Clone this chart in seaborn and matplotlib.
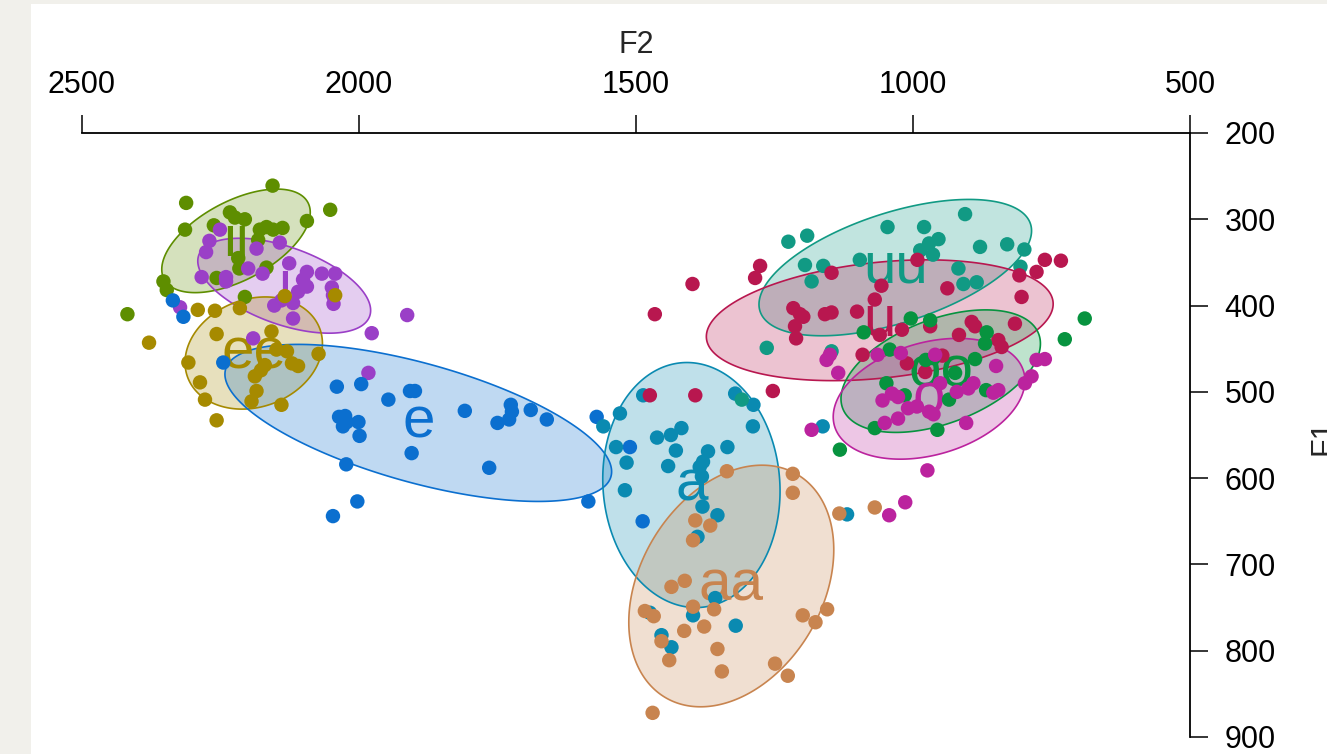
import numpy as np
import pandas as pd
import matplotlib
matplotlib.use("Agg")
import matplotlib.pyplot as plt
from matplotlib.patches import Polygon, Rectangle
import seaborn as sns

sns.set_style("white")
plt.rcParams["font.family"] = ["Liberation Sans", "DejaVu Sans"]

# vowel categories and their colours
vowels = ["ii", "i", "ee", "e", "a", "aa", "uu", "u", "oo", "o"]
colors = ["#5e8e00", "#9a3fc7", "#a68a00", "#0b6fcf", "#0a8ab1",
          "#c8844f", "#119a84", "#b8174f", "#07933f", "#bb239e"]

# token measurements (Hz)
ii_f2 = [2156, 2312, 2052, 2314, 2094, 2262, 2233, 2224, 2206, 2179, 2167,
         2155, 2138, 2182, 2218, 2216, 2167, 2257, 2353, 2347, 2206, 2418]
ii_f1 = [261, 281, 289, 312, 302, 307, 292, 298, 300, 312, 309,
         312, 310, 324, 345, 357, 356, 368, 372, 382, 390, 410]

i_f2 = [2251, 2270, 2276, 2185, 2143, 2126, 2200, 2174, 2284, 2240, 2240,
        2094, 2067, 2043, 2101, 2094, 2110, 2049, 2047, 2046, 2119, 2153,
        2140, 2119, 2323, 1977, 1913, 1983, 2191]
i_f1 = [312, 325, 338, 334, 327, 351, 357, 363, 367, 367, 372,
        361, 363, 363, 370, 378, 384, 379, 388, 398, 397, 400,
        394, 415, 402, 432, 411, 478, 438]

ee_f2 = [2379, 2291, 2260, 2215, 2257, 2158, 2308, 2287, 2278, 2257, 2194,
         2185, 2188, 2177, 2170, 2149, 2130, 2121, 2110, 2140, 2073, 2043, 2134]
ee_f1 = [443, 405, 406, 403, 433, 430, 466, 489, 509, 533, 511,
         499, 482, 475, 469, 451, 453, 467, 470, 515, 456, 388, 389]

e_f2 = [2336, 2317, 2245, 2040, 1996, 1947, 1908, 1899, 2036, 2025, 2029,
        2022, 2001, 1999, 1905, 2023, 2003, 2047, 1809, 1726, 1724, 1750,
        1729, 1690, 1661, 1765, 1571, 1511, 1586, 1488]
e_f1 = [394, 413, 466, 494, 491, 509, 499, 499, 529, 528, 540,
        535, 535, 551, 571, 584, 627, 644, 522, 515, 523, 536,
        532, 521, 532, 588, 529, 564, 627, 650]

a_f2 = [1487, 1321, 1288, 1289, 1529, 1559, 1462, 1437, 1418, 1536, 1517,
        1428, 1442, 1370, 1335, 1379, 1385, 1381, 1520, 1380, 1353, 1389,
        1357, 1475, 1397, 1454, 1436, 1320, 1119, 1163]
a_f1 = [504, 502, 515, 540, 525, 540, 553, 550, 542, 564, 582,
        568, 586, 569, 564, 581, 587, 598, 614, 633, 643, 668,
        739, 756, 759, 782, 796, 771, 642, 540]

aa_f2 = [1336, 1217, 1217, 1393, 1366, 1397, 1436, 1412, 1397, 1359, 1484,
         1468, 1413, 1377, 1454, 1440, 1353, 1345, 1249, 1226, 1199, 1176,
         1155, 1470, 1133, 1069]
aa_f1 = [592, 595, 617, 649, 655, 672, 726, 719, 749, 752, 754,
         760, 777, 772, 789, 811, 798, 824, 815, 829, 759, 767,
         752, 872, 641, 634]

uu_f2 = [1225, 1191, 1195, 1162, 1183, 1046, 980, 906, 971, 954, 987,
         964, 1096, 879, 830, 799, 918, 909, 885, 1264, 1147, 806, 1309]
uu_f1 = [326, 319, 353, 354, 372, 309, 309, 294, 328, 323, 336,
         341, 347, 332, 329, 335, 357, 375, 373, 449, 453, 355, 509]

u_f2 = [1398, 1276, 1285, 1147, 1057, 1069, 1216, 1204, 1198, 1213,
        1211, 1159, 1147, 1101, 1060, 1020, 969, 938, 992, 917,
        894, 888, 846, 840, 816, 804, 808, 777, 762, 733,
        1091, 978, 947, 1011, 1253, 1393, 1475, 1466]
u_f1 = [375, 354, 368, 362, 377, 393, 403, 410, 413, 424,
        438, 410, 408, 407, 434, 428, 424, 380, 347, 434,
        419, 424, 440, 448, 421, 390, 365, 361, 347, 348,
        457, 477, 458, 467, 499, 504, 504, 410]

oo_f2 = [1004, 969, 1089, 1042, 867, 870, 888, 977, 963, 1048, 1015,
         924, 868, 935, 1069, 956, 690, 726, 1132]
oo_f1 = [415, 417, 431, 451, 431, 444, 462, 463, 461, 490, 504,
         478, 498, 509, 542, 544, 415, 439, 567]

o_f2 = [1156, 1150, 1135, 1064, 1022, 960, 1055, 1038, 1027, 1009, 993,
        971, 963, 1051, 1027, 921, 900, 891, 951, 855, 846, 850,
        904, 777, 762, 786, 798, 974, 1183, 1014, 1043]
o_f1 = [463, 457, 478, 457, 455, 457, 510, 502, 506, 519, 517,
        523, 526, 536, 531, 500, 496, 490, 490, 501, 498, 470,
        536, 463, 462, 482, 490, 591, 544, 628, 643]

# per-vowel ellipse: centre, half-spread along each formant, correlation
ell_f2 = [2222, 2135, 2190, 1893, 1400, 1328, 1032, 1060, 950, 971]
ell_f1 = [325, 377, 455, 536, 608, 725, 356, 417, 476, 508]
spread_f2 = [134, 156, 124, 349, 160, 185, 246, 313, 180, 173]
spread_f1 = [60, 55, 65, 91, 142, 140, 79, 70, 71, 70]
ell_r = [0.55, -0.52, 0.17, -0.62, -0.05, 0.30, 0.54, 0.27, 0.45, 0.30]

f2_ticks = [2500, 2000, 1500, 1000, 500]
f1_ticks = [200, 300, 400, 500, 600, 700, 800, 900]

tokens = {
    "ii": (ii_f2, ii_f1), "i": (i_f2, i_f1), "ee": (ee_f2, ee_f1),
    "e": (e_f2, e_f1), "a": (a_f2, a_f1), "aa": (aa_f2, aa_f1),
    "uu": (uu_f2, uu_f1), "u": (u_f2, u_f1), "oo": (oo_f2, oo_f1),
    "o": (o_f2, o_f1),
}
df = pd.concat(
    [pd.DataFrame({"F2": f2, "F1": f1, "vowel": v}) for v, (f2, f1) in tokens.items()],
    ignore_index=True,
)
palette = dict(zip(vowels, colors))

W, H = 1327, 754
fig = plt.figure(figsize=(W / 100, H / 100), dpi=100)
fig.patch.set_facecolor("#f1f0eb")
fig.add_artist(Rectangle((31 / W, 0), 1 - 31 / W, 1 - 4 / H,
                         transform=fig.transFigure, facecolor="white",
                         edgecolor="none", zorder=-10))

ax = fig.add_axes([82 / W, 17 / H, (1190 - 82) / W, (737 - 133) / H])
ax.patch.set_visible(False)

# confidence ellipses with vowel labels at their centres
t = np.linspace(0, 2 * np.pi, 300)
for v, col, cx, cy, s2, s1, r in zip(vowels, colors, ell_f2, ell_f1,
                                     spread_f2, spread_f1, ell_r):
    cov = np.array([[s2 ** 2, r * s2 * s1], [r * s2 * s1, s1 ** 2]])
    L = np.linalg.cholesky(cov)
    pts = (L @ np.vstack([np.cos(t), np.sin(t)])).T + [cx, cy]
    ax.add_patch(Polygon(pts, closed=True, facecolor=col, alpha=0.26,
                         edgecolor="none", zorder=1))
    ax.add_patch(Polygon(pts, closed=True, facecolor="none",
                         edgecolor=col, linewidth=1.2, zorder=1.5))
    ax.text(cx, cy, v, color=col, fontsize=42, ha="center", va="center",
            zorder=2)

sns.scatterplot(data=df, x="F2", y="F1", hue="vowel", palette=palette,
                s=108, linewidth=0, legend=False, ax=ax, zorder=3)

ax.set_xlim(2500, 500)
ax.set_ylim(900, 200)
ax.set_xticks(f2_ticks)
ax.set_yticks(f1_ticks)
ax.xaxis.tick_top()
ax.yaxis.tick_right()
ax.set_xlabel("")
ax.set_ylabel("")
for side in ["left", "bottom"]:
    ax.spines[side].set_visible(False)
for side in ["top", "right"]:
    ax.spines[side].set_visible(True)
    ax.spines[side].set_linewidth(1.3)
    ax.spines[side].set_color("black")
ax.tick_params(axis="both", direction="out", length=13, width=1.1,
               labelsize=22, colors="black")
ax.tick_params(axis="x", pad=11)
ax.tick_params(axis="y", pad=12)
ax.grid(False)

fig.text(636 / W, 1 - 45 / H, "F2", ha="center", va="center", fontsize=22)
fig.text(1331 / W, 1 - 437 / H, "F1", ha="center", va="baseline",
         rotation=90, rotation_mode="anchor", fontsize=22)

fig.savefig("out.png", dpi=100, facecolor=fig.get_facecolor())
